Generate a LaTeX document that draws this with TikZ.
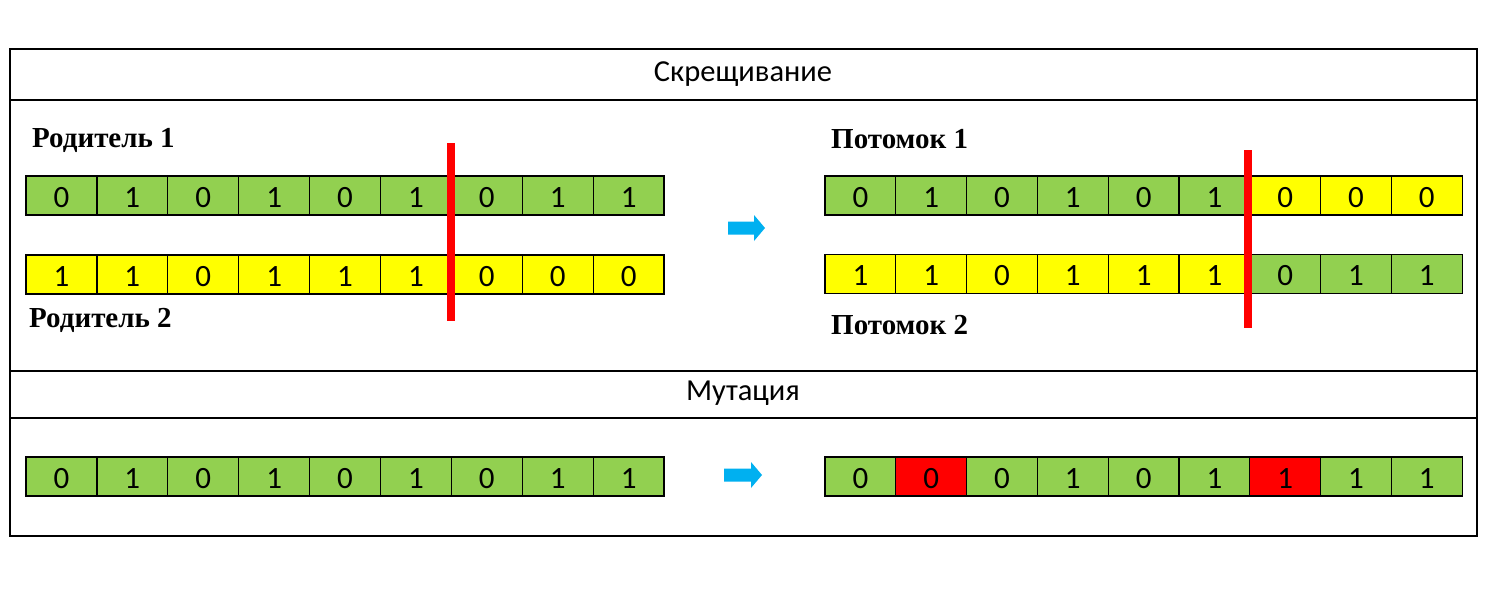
\documentclass[tikz,border=0pt]{standalone}
\usepackage{fontspec}
\newfontfamily\calfont{Carlito}
\newfontfamily\serfont{Liberation Serif}
\definecolor{cgreen}{RGB}{146,208,80}
\definecolor{cyellow}{RGB}{255,255,0}
\definecolor{cred}{RGB}{255,0,0}
\definecolor{cblue}{RGB}{0,176,240}
\begin{document}
\begin{tikzpicture}[x=1pt,y=-1pt,
  cell/.style={draw=black,line width=1.2pt,minimum width=70.8pt,minimum height=39pt,inner sep=0pt,text height=23pt,text depth=0pt,anchor=center,font=\calfont\fontsize{31}{31}\selectfont},
  title/.style={font=\calfont\fontsize{30.5}{30.5}\selectfont,anchor=base,inner sep=0pt},
  lbl/.style={font=\serfont\bfseries\fontsize{29}{29}\selectfont,anchor=base west,inner sep=0pt},
  frame/.style={draw=black,line width=1.2pt},
  cut/.style={draw=cred,line width=8pt},
  barrow/.style={fill=cblue}]
\useasboundingbox (0,0) rectangle (1489,603);
\fill[white] (0,0) rectangle (1489,603);
% frame
\draw[frame] (10,49) rectangle (1477,536);
\draw[frame] (10,100) -- (1477,100);
\draw[frame] (10,371) -- (1477,371);
\draw[frame] (10,418) -- (1477,418);
% titles
\node[title] (t1) at (743,81) {Скрещивание};
\node[title] (t2) at (743,400) {Мутация};
% labels
\node[lbl] (lp1) at (32,147) {Родитель 1};
\node[lbl] (lp2) at (29,327) {Родитель 2};
\node[lbl] (lc1) at (831,148) {Потомок 1};
\node[lbl] (lc2) at (831,334) {Потомок 2};
% rows
\foreach \v/\c [count=\i] in {0/cgreen,1/cgreen,0/cgreen,1/cgreen,0/cgreen,1/cgreen,0/cgreen,1/cgreen,1/cgreen}
  \node[cell,fill=\c] (pa\i) at ({26+70.9*(\i-0.5)},195.5) {\v};
\foreach \v/\c [count=\i] in {1/cyellow,1/cyellow,0/cyellow,1/cyellow,1/cyellow,1/cyellow,0/cyellow,0/cyellow,0/cyellow}
  \node[cell,fill=\c] (pb\i) at ({26+70.9*(\i-0.5)},274.5) {\v};
\foreach \v/\c [count=\i] in {0/cgreen,1/cgreen,0/cgreen,1/cgreen,0/cgreen,1/cgreen,0/cyellow,0/cyellow,0/cyellow}
  \node[cell,fill=\c] (ca\i) at ({825+70.8*(\i-0.5)},195.5) {\v};
\foreach \v/\c [count=\i] in {1/cyellow,1/cyellow,0/cyellow,1/cyellow,1/cyellow,1/cyellow,0/cgreen,1/cgreen,1/cgreen}
  \node[cell,fill=\c] (cb\i) at ({825+70.8*(\i-0.5)},274) {\v};
\foreach \v/\c [count=\i] in {0/cgreen,1/cgreen,0/cgreen,1/cgreen,0/cgreen,1/cgreen,0/cgreen,1/cgreen,1/cgreen}
  \node[cell,fill=\c] (ma\i) at ({26+70.9*(\i-0.5)},476.5) {\v};
\foreach \v/\c [count=\i] in {0/cgreen,0/cred,0/cgreen,1/cgreen,0/cgreen,1/cgreen,1/cred,1/cgreen,1/cgreen}
  \node[cell,fill=\c] (mb\i) at ({825+70.8*(\i-0.5)},476.5) {\v};
% cut lines
\coordinate (cuta1) at (451,143);
\coordinate (cuta2) at (451,321);
\coordinate (cutb1) at (1248,150);
\coordinate (cutb2) at (1248,328);
\draw[cut] (cuta1) -- (cuta2);
\draw[cut] (cutb1) -- (cutb2);
% arrows
\fill[barrow] (728,221.5) -- (754,221.5) -- (754,215) -- (765,228) -- (754,241) -- (754,234.5) -- (728,234.5) -- cycle;
\fill[barrow] (724,468.5) -- (751,468.5) -- (751,462) -- (762,475) -- (751,488) -- (751,481.5) -- (724,481.5) -- cycle;
\end{tikzpicture}
\end{document}
